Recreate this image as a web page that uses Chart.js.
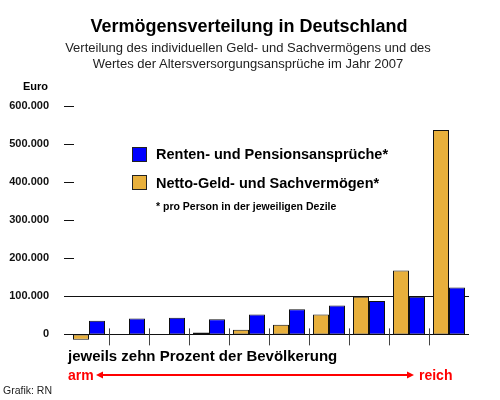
<!DOCTYPE html>
<html>
<head>
<meta charset="utf-8">
<script src="https://cdn.jsdelivr.net/npm/chart.js@4"></script>
<style>
  body { margin: 0; background: #fff; font-family: 'Liberation Sans', Arial, sans-serif; }
  #wrap { position: relative; width: 500px; height: 400px; }
  .t { position: absolute; white-space: nowrap; transform: translateY(-50%); line-height: 1; }
  .sw { position: absolute; width: 13px; height: 13px; border: 1px solid #222; }
</style>
</head>
<body>
<div id="wrap">
  <canvas id="c" width="500" height="400"></canvas>
  <div class="t" style="left:0;width:498px;text-align:center;top:26px;font-size:18px;font-weight:bold;">Vermögensverteilung in Deutschland</div>
  <div class="t" style="left:0;width:496px;text-align:center;top:47px;font-size:13px;color:#222;">Verteilung des individuellen Geld- und Sachvermögens und des</div>
  <div class="t" style="left:0;width:496px;text-align:center;top:63px;font-size:13px;color:#222;">Wertes der Altersversorgungsansprüche im Jahr 2007</div>
  <div class="t" style="left:23px;top:86px;font-size:11px;font-weight:bold;">Euro</div>

  <div class="sw" style="left:132px;top:147px;background:#0000ff;"></div>
  <div class="t" style="left:156px;top:154px;font-size:14.5px;font-weight:bold;">Renten- und Pensionsansprüche*</div>
  <div class="sw" style="left:132px;top:175px;background:#e8b03c;"></div>
  <div class="t" style="left:156px;top:183px;font-size:14.5px;font-weight:bold;">Netto-Geld- und Sachvermögen*</div>
  <div class="t" style="left:156px;top:206px;font-size:10.5px;font-weight:bold;">* pro Person in der jeweiligen Dezile</div>

  <div class="t" style="left:68px;top:355px;font-size:15px;font-weight:bold;">jeweils zehn Prozent der Bevölkerung</div>
  <div class="t" style="left:68px;top:375px;font-size:14px;font-weight:bold;color:#ff0000;">arm</div>
  <div class="t" style="left:419px;top:375px;font-size:14px;font-weight:bold;color:#ff0000;">reich</div>
  <div class="t" style="left:3px;top:390px;font-size:10.5px;color:#222;">Grafik: RN</div>
</div>
<script>
// Dezile 1 (arm) .. 10 (reich)
const deciles = ['1', '2', '3', '4', '5', '6', '7', '8', '9', '10'];
const nettoVermoegen = [-14000, 0, 0, 5000, 12000, 25000, 52000, 99000, 168000, 537000];
const rentenAnsprueche = [36000, 42000, 44000, 40000, 52000, 66000, 76000, 88000, 99000, 123000];
const yTicks = [0, 100000, 200000, 300000, 400000, 500000, 600000];

const GOLD = '#e8b03c';
const BLUE = '#0000ff';

function fmt(v) {
    return String(v).replace(/\B(?=(\d{3})+(?!\d))/g, '.');
}

// lines behind the bars: 0 / 100.000 full width, short dashes for the rest,
// group separators below the baseline, red arm/reich arrow
const axisLines = {
    id: 'axisLines',
    beforeDatasetsDraw(chart) {
        const { ctx, chartArea, scales: { x, y } } = chart;
        const x0 = chartArea.left - 5;
        ctx.save();
        ctx.strokeStyle = '#111';
        ctx.lineWidth = 1;
        yTicks.forEach(v => {
            const py = Math.round(y.getPixelForValue(v)) + 0.5;
            ctx.beginPath();
            ctx.moveTo(x0, py);
            ctx.lineTo(v <= 100000 ? chartArea.right : x0 + 10, py);
            ctx.stroke();
        });
        const base = y.getPixelForValue(0);
        ctx.strokeStyle = '#444';
        for (let i = 1; i < deciles.length; i++) {
            const px = Math.round((x.getPixelForValue(i - 1) + x.getPixelForValue(i)) / 2) + 0.5;
            ctx.beginPath();
            ctx.moveTo(px, base - 6);
            ctx.lineTo(px, base + 11);
            ctx.stroke();
        }
        ctx.restore();
    },
    afterDraw(chart) {
        const { ctx } = chart;
        const ay = 375, ax1 = 96, ax2 = 414;
        ctx.save();
        ctx.strokeStyle = '#ff0000';
        ctx.fillStyle = '#ff0000';
        ctx.lineWidth = 2;
        ctx.beginPath();
        ctx.moveTo(ax1 + 4, ay);
        ctx.lineTo(ax2 - 4, ay);
        ctx.stroke();
        ctx.beginPath();
        ctx.moveTo(ax1, ay); ctx.lineTo(ax1 + 7, ay - 3.5); ctx.lineTo(ax1 + 7, ay + 3.5);
        ctx.closePath(); ctx.fill();
        ctx.beginPath();
        ctx.moveTo(ax2, ay); ctx.lineTo(ax2 - 7, ay - 3.5); ctx.lineTo(ax2 - 7, ay + 3.5);
        ctx.closePath(); ctx.fill();
        ctx.restore();
    }
};

new Chart(document.getElementById('c'), {
    type: 'bar',
    data: {
        labels: deciles,
        datasets: [
            { label: 'Netto-Geld- und Sachvermögen*', data: nettoVermoegen, backgroundColor: GOLD },
            { label: 'Renten- und Pensionsansprüche*', data: rentenAnsprueche, backgroundColor: BLUE }
        ]
    },
    options: {
        responsive: false,
        animation: false,
        layout: { padding: { left: 0, right: 31, top: 106, bottom: 58 } },
        datasets: {
            bar: {
                categoryPercentage: 0.8,
                barPercentage: 1.0,
                borderColor: '#111',
                borderWidth: 1,
                borderSkipped: false
            }
        },
        plugins: {
            legend: { display: false },
            tooltip: { enabled: false }
        },
        scales: {
            x: { display: false },
            y: {
                min: -20000,
                max: 600000,
                afterBuildTicks: s => { s.ticks = yTicks.map(v => ({ value: v })); },
                afterFit: s => { s.width = 69; },
                grid: { display: false },
                border: { display: false },
                ticks: {
                    padding: 12,
                    color: '#111',
                    font: { family: "'Liberation Sans', Arial, sans-serif", size: 11, weight: 'bold' },
                    callback: v => fmt(v)
                }
            }
        }
    },
    plugins: [axisLines]
});
</script>
</body>
</html>
